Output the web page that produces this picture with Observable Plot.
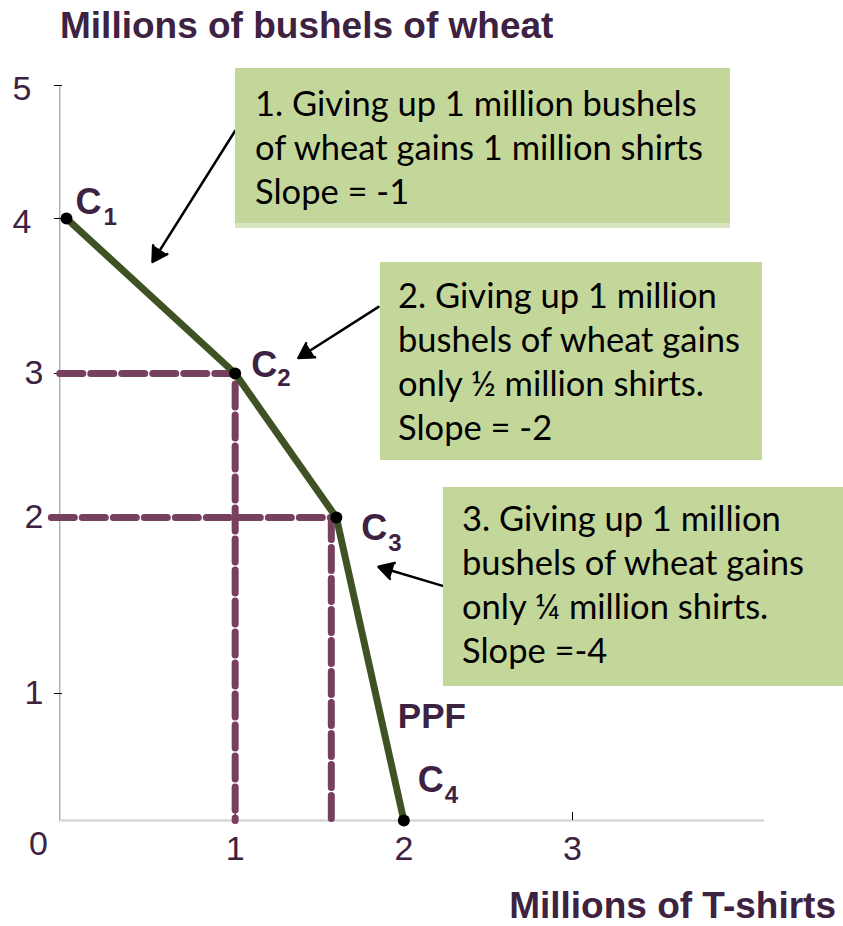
<!DOCTYPE html>
<html><head><meta charset="utf-8">
<script src="https://cdn.jsdelivr.net/npm/d3@7"></script>
<script src="https://cdn.jsdelivr.net/npm/@observablehq/plot@0.6"></script>
<style>
html,body{margin:0;padding:0;background:#fff;overflow:hidden}
#wrap{position:relative;width:843px;height:926px}
#wrap svg{position:absolute;left:0;top:0}
.title{position:absolute;font-family:"Liberation Sans",Arial,sans-serif;font-weight:bold;font-size:37px;line-height:1;color:#3d2241;white-space:nowrap}
.box{position:absolute;background:#c4d79b;font-family:Lato,"Open Sans",sans-serif;font-size:34.5px;line-height:44px;color:#000;box-sizing:border-box;white-space:nowrap}
</style></head><body>
<div id="wrap"></div>
<script>
// ---- data ----
const points = ["C1", "C2", "C3", "C4"];
const tshirts = [0, 1, 1.6, 2];      // millions of T-shirts
const wheat = [4, 3, 2, 0];          // millions of bushels of wheat
const dropX = [1, 1.57];             // dashed guide corners (x)
const dropY = [3, 2];                // dashed guide corners (y)
const dropStart = [-0.04, -0.09];    // where the dashed guides start
const yTicks = [1, 2, 3, 4, 5];
const xTicks = [1, 2, 3];
const xTitle = "Millions of T-shirts";
const yTitle = "Millions of bushels of wheat";
const boxTexts = [
  ["1. Giving up 1 million bushels", "of wheat gains 1 million shirts", "Slope = -1"],
  ["2. Giving up 1 million", "bushels of wheat gains", "only ½ million shirts.", "Slope = -2"],
  ["3. Giving up 1 million", "bushels of wheat gains", "only ¼ million shirts.", "Slope =-4"]
];
const arrowFromX = [1.00, 1.85, 2.235];
const arrowFromY = [4.66, 3.43, 1.61];
const arrowToX = [0.51, 1.375, 1.85];
const arrowToY = [3.72, 3.10, 1.72];

// ---- tables built from the arrays ----
const rows = points.map((p, i) => ({point: p, x: tshirts[i], y: wheat[i]}));
const dropRows = dropX.flatMap((x, i) => [
  {g: i, x: dropStart[i], y: dropY[i]},
  {g: i, x, y: dropY[i]},
  {g: i, x, y: 0}
]);
const arrows = arrowFromX.map((x, i) => ({x1: x, y1: arrowFromY[i], x2: arrowToX[i], y2: arrowToY[i]}));

const labelColor = "#3d2241";
const labelOffsets = [[9, -16, 37, -1], [16, -8, 42, 5], [25, 11, 52, 26], [14, -40, 41, -25]];
const fmt = d => String(d);

const fontMain = "'Liberation Sans', Arial, sans-serif";

const plot = Plot.plot({
  width: 843,
  height: 926,
  marginLeft: 59,
  marginRight: 79,
  marginTop: 85,
  marginBottom: 106,
  style: {fontFamily: fontMain, background: "transparent", overflow: "visible"},
  x: {type: "linear", domain: [0, 3], range: [66, 572], axis: null},
  y: {type: "linear", domain: [0, 1, 2, 3, 4, 5], range: [820, 693, 517, 373, 218, 85], axis: null},
  marks: [
    // axis lines
    Plot.ruleY([0], {x1: -0.04, x2: 4.14, stroke: "#d0d0d0", strokeWidth: 2}),
    Plot.ruleX([-0.04], {y1: 0, y2: 5, stroke: "#a8a8a8", strokeWidth: 1.3}),
    // tick marks
    Plot.axisY({ticks: yTicks, tickSize: 8, dx: 3, fill: "none", stroke: "black", label: null}),
    Plot.axisX({ticks: xTicks, tickSize: 8, dy: -8, fill: "none", stroke: "black", label: null}),
    // tick labels
    Plot.axisY({ticks: yTicks.filter(d => d >= 4), tickSize: 0, tickPadding: 28, tickFormat: fmt, fontSize: 34, fill: labelColor, label: null, dy: 4}),
    Plot.axisY({ticks: yTicks.filter(d => d < 4), tickSize: 0, tickPadding: 16, tickFormat: fmt, fontSize: 34, fill: labelColor, label: null}),
    Plot.axisX({ticks: xTicks, tickSize: 0, tickPadding: 15, tickFormat: fmt, fontSize: 34, fill: labelColor, label: null}),
    Plot.text([0], {x: 0, y: 0, text: fmt, dx: -28, dy: 24, fontSize: 34, fill: labelColor}),
    // dashed guides
    Plot.line(dropRows, {x: "x", y: "y", z: "g", stroke: "#77405f", strokeWidth: 7, strokeDasharray: "23,8"}),
    // PPF
    Plot.line(rows, {x: "x", y: "y", stroke: "#3f5224", strokeWidth: 7}),
    Plot.dot(rows, {x: "x", y: "y", r: 6, fill: "black"}),
    // labels
    ...rows.flatMap((r, i) => [
      Plot.text([r], {x: "x", y: "y", text: d => d.point.slice(0, 1), textAnchor: "start", dx: labelOffsets[i][0], dy: labelOffsets[i][1], fontSize: 36, fontWeight: "bold", fill: labelColor}),
      Plot.text([r], {x: "x", y: "y", text: d => d.point.slice(1), textAnchor: "start", dx: labelOffsets[i][2], dy: labelOffsets[i][3], fontSize: 24, fontWeight: "bold", fill: labelColor})
    ]),
    Plot.text([rows[3]], {x: "x", y: "y", text: () => "PPF", textAnchor: "start", dx: -6, dy: -104, fontSize: 35, fontWeight: "bold", fill: labelColor}),
    // arrows
    Plot.arrow(arrows, {x1: "x1", y1: "y1", x2: "x2", y2: "y2", stroke: "black", fill: "black", strokeWidth: 2.5, headLength: 10})
  ]
});

const wrap = document.getElementById("wrap");
wrap.appendChild(plot);

// titles
const t1 = document.createElement("div");
t1.className = "title"; t1.textContent = yTitle;
Object.assign(t1.style, {left: "60px", top: "7px"});
wrap.appendChild(t1);
const t2 = document.createElement("div");
t2.className = "title"; t2.textContent = xTitle;
Object.assign(t2.style, {right: "7px", top: "887px"});
wrap.appendChild(t2);

// annotation boxes
const boxStyles = [
  {left: "235px", top: "68px", width: "495px", height: "160px", padding: "13px 0 0 20px", borderBottom: "5px solid #d8e4bd"},
  {left: "380px", top: "262px", width: "382px", height: "198px", padding: "11px 0 0 18px"},
  {left: "443px", top: "487px", width: "400px", height: "199px", padding: "9px 0 0 19px"}
];
boxTexts.forEach((lines, i) => {
  const b = document.createElement("div");
  b.className = "box";
  Object.assign(b.style, boxStyles[i]);
  lines.forEach((l, j) => {
    if (j) b.appendChild(document.createElement("br"));
    b.appendChild(document.createTextNode(l));
  });
  wrap.appendChild(b);
});
</script>
</body></html>
